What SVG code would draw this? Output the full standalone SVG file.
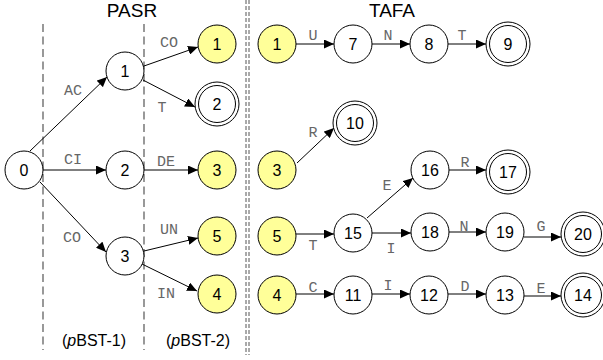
<svg xmlns="http://www.w3.org/2000/svg" width="603" height="360" viewBox="0 0 603 360">
<defs>
<marker id="a" markerUnits="userSpaceOnUse" markerWidth="11" markerHeight="9" refX="10" refY="4.5" orient="auto">
<path d="M0,0 L10,4.5 L0,9 Z" fill="#000"/>
</marker>
</defs>
<style>
.n circle{fill:#fff;stroke:#000;stroke-width:1}
.y circle{fill:#ffff99}
.n text{font-family:"Liberation Sans",Arial,sans-serif;font-size:16px;text-anchor:middle;fill:#000}
.e{font-family:"Liberation Mono","Courier New",monospace;font-size:15px;fill:#666;text-anchor:middle}
.c line{stroke:#000;stroke-width:1;marker-end:url(#a)}
.h{font-family:"Liberation Sans",Arial,sans-serif;font-size:19px;text-anchor:middle;fill:#000}
.b{font-family:"Liberation Sans",Arial,sans-serif;font-size:16px;text-anchor:middle;fill:#000}
.sep{stroke:#555;stroke-width:1.2;stroke-dasharray:8 4.5}
.sep2{stroke:#555;stroke-width:1;stroke-dasharray:4 2}
</style>
<rect width="603" height="360" fill="#fff"/>
<g id="separators">
<line class="sep" x1="43" y1="24" x2="43" y2="350"/>
<line class="sep" x1="144" y1="24" x2="144" y2="350"/>
<line class="sep2" x1="246" y1="0" x2="246" y2="355"/>
<line class="sep2" x1="249" y1="0" x2="249" y2="355"/>
</g>
<g id="titles">
<text class="h" x="132" y="17">PASR</text>
<text class="h" x="392" y="17">TAFA</text>
<text class="b" x="94" y="346">(<tspan font-style="italic">p</tspan>BST-1)</text>
<text class="b" x="198" y="346">(<tspan font-style="italic">p</tspan>BST-2)</text>
</g>
<g id="connectors" class="c">
<line x1="30" y1="151" x2="107" y2="77"/>
<line x1="43" y1="170" x2="106" y2="170"/>
<line x1="40" y1="182" x2="106" y2="252"/>
<line x1="144" y1="66" x2="198" y2="47"/>
<line x1="143" y1="80" x2="195" y2="107"/>
<line x1="144" y1="170" x2="198" y2="170"/>
<line x1="144" y1="251" x2="198" y2="238"/>
<line x1="142" y1="264" x2="197" y2="291"/>
<line x1="296" y1="44" x2="334" y2="44"/>
<line x1="372" y1="44" x2="410" y2="44"/>
<line x1="448" y1="44" x2="486" y2="44"/>
<line x1="297" y1="163" x2="334" y2="128"/>
<line x1="449" y1="170" x2="486" y2="170"/>
<line x1="296" y1="234" x2="334" y2="234"/>
<line x1="367" y1="218" x2="413" y2="178"/>
<line x1="372" y1="233" x2="411" y2="233"/>
<line x1="449" y1="232" x2="486" y2="232"/>
<line x1="524" y1="237" x2="561" y2="237"/>
<line x1="296" y1="294" x2="334" y2="294"/>
<line x1="372" y1="294" x2="410" y2="294"/>
<line x1="448" y1="294" x2="486" y2="294"/>
<line x1="524" y1="296" x2="561" y2="296"/>
</g>
<g id="edge-labels">
<text class="e" x="73" y="95">AC</text>
<text class="e" x="73" y="164">CI</text>
<text class="e" x="72" y="242">CO</text>
<text class="e" x="169" y="47">CO</text>
<text class="e" x="162" y="112">T</text>
<text class="e" x="166" y="166">DE</text>
<text class="e" x="169" y="234">UN</text>
<text class="e" x="166" y="298">IN</text>
<text class="e" x="313" y="40">U</text>
<text class="e" x="388" y="40">N</text>
<text class="e" x="462" y="40">T</text>
<text class="e" x="313" y="137">R</text>
<text class="e" x="387" y="190">E</text>
<text class="e" x="465" y="167">R</text>
<text class="e" x="313" y="250">T</text>
<text class="e" x="391" y="253">I</text>
<text class="e" x="464" y="231">N</text>
<text class="e" x="541" y="231">G</text>
<text class="e" x="313" y="292">C</text>
<text class="e" x="388" y="290">I</text>
<text class="e" x="465" y="291">D</text>
<text class="e" x="541" y="293">E</text>
</g>
<g id="p0" class="n"><circle cx="24" cy="170" r="19"/><text x="24" y="176">0</text></g>
<g id="p1" class="n"><circle cx="125" cy="71" r="19"/><text x="125" y="77">1</text></g>
<g id="p2" class="n"><circle cx="125" cy="170" r="19"/><text x="125" y="176">2</text></g>
<g id="p3" class="n"><circle cx="125" cy="256" r="19"/><text x="125" y="262">3</text></g>
<g id="py1" class="n y"><circle cx="217" cy="44" r="19"/><text x="217" y="50">1</text></g>
<g id="pd2" class="n"><circle cx="217" cy="104" r="22"/><circle cx="217" cy="104" r="18.5"/><text x="217" y="110">2</text></g>
<g id="py3" class="n y"><circle cx="217" cy="170" r="19"/><text x="217" y="176">3</text></g>
<g id="py5" class="n y"><circle cx="217" cy="236" r="19"/><text x="217" y="242">5</text></g>
<g id="py4" class="n y"><circle cx="217" cy="294" r="19"/><text x="217" y="300">4</text></g>
<g id="t1" class="n y"><circle cx="277" cy="44" r="19"/><text x="277" y="50">1</text></g>
<g id="t7" class="n"><circle cx="353" cy="44" r="19"/><text x="353" y="50">7</text></g>
<g id="t8" class="n"><circle cx="429" cy="44" r="19"/><text x="429" y="50">8</text></g>
<g id="t9" class="n"><circle cx="508" cy="44" r="22"/><circle cx="508" cy="44" r="18.5"/><text x="508" y="50">9</text></g>
<g id="t10" class="n"><circle cx="355" cy="123" r="22"/><circle cx="355" cy="123" r="18.5"/><text x="355" y="129">10</text></g>
<g id="t3" class="n y"><circle cx="277" cy="170" r="19"/><text x="277" y="176">3</text></g>
<g id="t16" class="n"><circle cx="430" cy="170" r="19"/><text x="430" y="176">16</text></g>
<g id="t17" class="n"><circle cx="508" cy="172" r="22"/><circle cx="508" cy="172" r="18.5"/><text x="508" y="178">17</text></g>
<g id="t5" class="n y"><circle cx="277" cy="236" r="19"/><text x="277" y="242">5</text></g>
<g id="t15" class="n"><circle cx="353" cy="233" r="19"/><text x="353" y="239">15</text></g>
<g id="t18" class="n"><circle cx="430" cy="232" r="19"/><text x="430" y="238">18</text></g>
<g id="t19" class="n"><circle cx="505" cy="232" r="19"/><text x="505" y="238">19</text></g>
<g id="t20" class="n"><circle cx="583" cy="234" r="22"/><circle cx="583" cy="234" r="18.5"/><text x="583" y="240">20</text></g>
<g id="t4" class="n y"><circle cx="277" cy="295" r="19"/><text x="277" y="301">4</text></g>
<g id="t11" class="n"><circle cx="353" cy="295" r="19"/><text x="353" y="301">11</text></g>
<g id="t12" class="n"><circle cx="429" cy="295" r="19"/><text x="429" y="301">12</text></g>
<g id="t13" class="n"><circle cx="505" cy="295" r="19"/><text x="505" y="301">13</text></g>
<g id="t14" class="n"><circle cx="583" cy="295" r="22"/><circle cx="583" cy="295" r="18.5"/><text x="583" y="301">14</text></g>
</svg>
